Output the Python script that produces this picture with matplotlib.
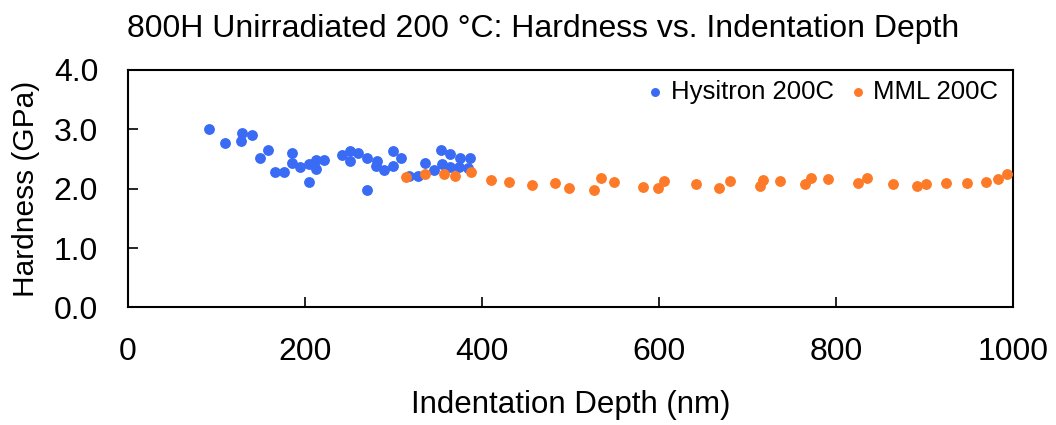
import matplotlib
matplotlib.use("Agg")
import matplotlib.pyplot as plt

plt.rcParams['font.family'] = ['Liberation Sans', 'DejaVu Sans']

# Hysitron 200C (depth nm, hardness GPa)
hys_depth = [91, 110, 129, 128, 140, 158, 149, 166, 176, 185, 185, 194, 204, 204,
             212, 212, 222, 242, 251, 251, 260, 270, 270, 281, 280, 289, 299, 299,
             308, 318, 328, 336, 346, 355, 354, 364, 364, 375, 374, 386, 384]
hys_hard = [3.01, 2.77, 2.94, 2.80, 2.91, 2.66, 2.51, 2.29, 2.28, 2.60, 2.44, 2.36, 2.41, 2.12,
            2.48, 2.34, 2.48, 2.57, 2.63, 2.47, 2.61, 2.51, 1.98, 2.47, 2.39, 2.32, 2.64, 2.39,
            2.51, 2.21, 2.21, 2.44, 2.32, 2.42, 2.66, 2.58, 2.36, 2.52, 2.36, 2.52, 2.35]

# MML 200C
mml_depth = [314, 336, 357, 370, 388, 410, 430, 457, 482, 498, 527, 535, 549, 582,
             599, 606, 642, 668, 680, 714, 718, 737, 765, 772, 791, 825, 835, 865,
             892, 902, 924, 948, 970, 983, 993]
mml_hard = [2.19, 2.24, 2.25, 2.21, 2.29, 2.15, 2.12, 2.07, 2.10, 2.01, 1.98, 2.18, 2.12, 2.03,
            2.02, 2.13, 2.08, 2.02, 2.13, 2.05, 2.15, 2.13, 2.08, 2.18, 2.17, 2.09, 2.18, 2.08,
            2.04, 2.08, 2.09, 2.10, 2.11, 2.16, 2.25]

fig = plt.figure(figsize=(10.56, 4.25), dpi=100)
ax = fig.add_axes([0.1212, 0.2765, 0.838, 0.5588])

ax.scatter(hys_depth, hys_hard, s=46, color='#3A6BF5', label='Hysitron 200C', zorder=3)
ax.scatter(mml_depth, mml_hard, s=46, color='#FD7A28', label='MML 200C', zorder=3)

ax.set_xlim(0, 1000)
ax.set_ylim(0, 4)
ax.set_xticks([0, 200, 400, 600, 800, 1000])
ax.set_yticks([0, 1, 2, 3, 4])
ax.set_yticklabels(['0.0', '1.0', '2.0', '3.0', '4.0'])
ax.tick_params(direction='in', length=7, width=1.2, labelsize=23)
ax.tick_params(axis='x', pad=21)
ax.tick_params(axis='y', pad=21.5)
for sp in ax.spines.values():
    sp.set_linewidth(1.5)

ax.set_xlabel('Indentation Depth (nm)', fontsize=22.5, labelpad=17)
ax.set_ylabel('Hardness (GPa)', fontsize=21.5, labelpad=10)

ax.legend(loc='upper right', frameon=False, fontsize=18.5, markerscale=0.8,
          ncol=2, handlelength=0.6, handletextpad=0.3, columnspacing=0.65,
          borderaxespad=0.3, bbox_to_anchor=(1.004, 1.035))

fig.text(0.12, 0.912, '800H Unirradiated 200 \u00b0C: Hardness vs. Indentation Depth',
         fontsize=23, ha='left', va='baseline')

fig.savefig('out.png', dpi=100)
